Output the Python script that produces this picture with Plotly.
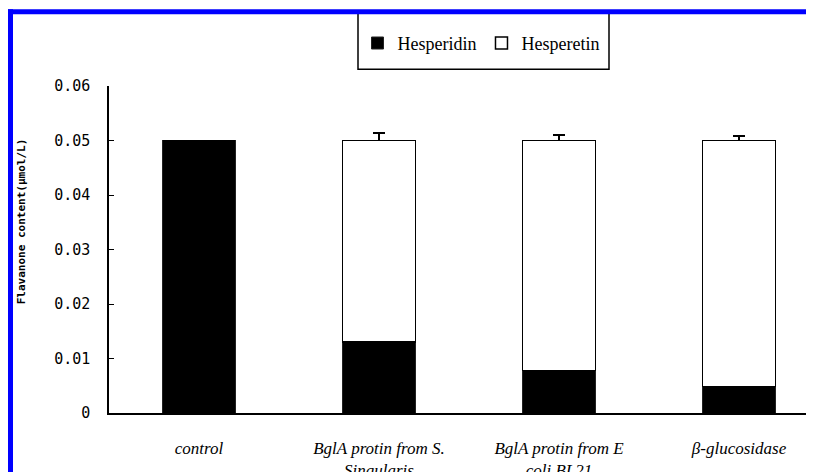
import plotly.graph_objects as go

categories = ["<i>control</i>", "<i>BglA protin from S.</i><br><i>Singularis</i>",
              "<i>BglA protin from E</i><br><i>coli BL21</i>", "<i>β-glucosidase</i>"]
hesperidin = [0.05, 0.013, 0.0078, 0.0049]
hesperetin = [0.0, 0.037, 0.0422, 0.0451]
hesperetin_err = [None, 0.0014, 0.0010, 0.0008]
y_ticks = [0, 0.01, 0.02, 0.03, 0.04, 0.05, 0.06]
y_tick_text = ["0", "0.01", "0.02", "0.03", "0.04", "0.05", "0.06"]

# page body has an 8px margin: design in screen coordinates, shift by OFF
OFF = 8
W, H = 814, 472
SL, ST, SB, SR = 109, 85.7, 412.7, 814   # plot area in screen px
L = SL - OFF
T = ST - OFF
B = H - (SB - OFF)
R = W - (SR - OFF)
PW = SR - SL
PH = SB - ST
cat_px = 180.0

def px(x):
    return (x - SL) / PW

def py(y):
    return (SB - y) / PH

xs = list(range(len(categories)))

fig = go.Figure()
fig.add_trace(go.Bar(
    x=xs, y=hesperidin, name="Hesperidin", width=0.405,
    marker=dict(color="black", line=dict(color="#222", width=1)),
))
fig.add_trace(go.Bar(
    x=xs, y=hesperetin, name="Hesperetin", width=0.405,
    marker=dict(color="white", line=dict(color="black", width=1.5)),
    error_y=dict(type="data", array=hesperetin_err, symmetric=False,
                 arrayminus=[0, 0, 0, 0], color="black", thickness=1.5, width=6),
))

fig.update_layout(
    width=W, height=H,
    margin=dict(l=L, r=R, t=T, b=B),
    barmode="stack",
    plot_bgcolor="white", paper_bgcolor="white",
    showlegend=True,
    legend=dict(orientation="h", x=px(481), xanchor="center", y=py(43), yanchor="middle",
                font=dict(family="Liberation Serif", size=18, color="black"),
                bgcolor="rgba(0,0,0,0)", itemwidth=30, traceorder="normal"),
    xaxis=dict(range=[-0.5, -0.5 + PW / cat_px], tickmode="array", tickvals=xs,
               ticktext=categories, tickson="boundaries", ticks="inside", ticklen=4,
               tickcolor="black", showline=True, linecolor="black", linewidth=1.5,
               showgrid=False, zeroline=False, ticklabelstandoff=19, automargin=False,
               tickfont=dict(family="Liberation Serif", size=17, color="black")),
    yaxis=dict(range=[0, 0.06], tickmode="array", tickvals=y_ticks, ticktext=y_tick_text,
               ticks="inside", ticklen=5, tickcolor="black", showline=True,
               linecolor="black", linewidth=1.5, showgrid=False, zeroline=False,
               ticklabelstandoff=14, automargin=False,
               tickfont=dict(family="DejaVu Sans Mono", size=15, color="black")),
    shapes=[
        dict(type="rect", xref="paper", yref="paper", x0=px(358), x1=px(609), y0=py(69), y1=py(13),
             line=dict(color="black", width=1.5), fillcolor="rgba(0,0,0,0)", layer="below"),
        dict(type="rect", xref="paper", yref="paper", x0=px(8), x1=px(830), y0=py(14), y1=py(9),
             line=dict(width=0), fillcolor="#0000ff"),
        dict(type="rect", xref="paper", yref="paper", x0=px(8), x1=px(13), y0=py(490), y1=py(9),
             line=dict(width=0), fillcolor="#0000ff"),
    ],
    annotations=[
        dict(text="Flavanone content(μmol/L)", xref="paper", yref="paper", x=px(21), y=py(221),
             showarrow=False, textangle=-90, xanchor="center", yanchor="middle",
             font=dict(family="DejaVu Sans Mono", size=11, color="black", weight="bold")),
    ],
)

fig.write_html("out.html")
